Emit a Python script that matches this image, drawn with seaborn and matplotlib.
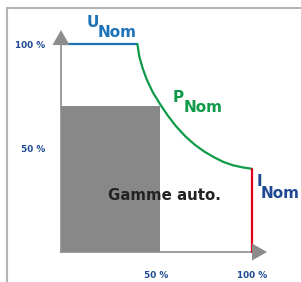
import matplotlib
matplotlib.use("Agg")
import matplotlib.pyplot as plt
from matplotlib.lines import Line2D
from matplotlib.patches import Polygon
import seaborn as sns
import pandas as pd

# ---- data (percent of nominal) ----
u_x = [0, 40]
u_y = [100, 100]
p_x = [40, 41, 42.8, 45, 48, 52, 56, 60, 65, 70, 75, 80, 85, 90, 95, 100]
p_y = [100, 94, 88.2, 82.7, 76.9, 70.9, 65.5, 60.7, 55.7, 51.6, 48.3, 45.6, 43.3, 41.7, 40.7, 40]
i_x = [100, 100]
i_y = [40, 0]
auto_w = 52   # automatic range width (%)
auto_h = 70   # automatic range height (%)
tick_vals = [10, 20, 30, 40, 50, 60, 70, 80, 90, 100]
tick_labels = ["", "", "", "", "50 %", "", "", "", "", "100 %"]

sns.set_style("white")
plt.rcParams["font.family"] = ["DejaVu Sans"]

W, H, DPI = 301, 282, 100
fig = plt.figure(figsize=(W / DPI, H / DPI), dpi=DPI)
ax = fig.add_axes([0, 0, 1, 1])
ax.patch.set_alpha(0)

# pixel mapping: origin (61,252); 100% x at 252 px; 100% y at 44 px
sx = 191 / 100
sy = 208 / 100
ax.set_xlim(-61 / sx, (W - 61) / sx)
ax.set_ylim(-(H - 252) / sy, 252 / sy)

blue = "#1d72b8"
green = "#0f9a48"
red = "#e2001a"
navy = "#1f4a93"
gray_axis = "#8c8c8c"

# automatic range box
ax.bar(0, auto_h, width=auto_w, align="edge", color="#888888", linewidth=0, zorder=1)

df_u = pd.DataFrame({"x": u_x, "y": u_y})
df_p = pd.DataFrame({"x": p_x, "y": p_y})
df_i = pd.DataFrame({"x": i_x, "y": i_y})
sns.lineplot(data=df_u, x="x", y="y", color=blue, lw=1.6, sort=False, estimator=None, ax=ax, zorder=3)
sns.lineplot(data=df_p, x="x", y="y", color=green, lw=1.6, sort=False, estimator=None, ax=ax, zorder=3)
sns.lineplot(data=df_i, x="x", y="y", color=red, lw=1.6, sort=False, estimator=None, ax=ax, zorder=3)

# axes
for s in ["top", "right"]:
    ax.spines[s].set_visible(False)
ax.spines["left"].set_position(("data", 0))
ax.spines["bottom"].set_position(("data", 0))
ax.spines["left"].set_bounds(0, 100)
ax.spines["bottom"].set_bounds(0, 100)
for s in ["left", "bottom"]:
    ax.spines[s].set_color(gray_axis)
    ax.spines[s].set_linewidth(1.2)
    ax.spines[s].set_zorder(2)

ax.set_xticks(tick_vals)
ax.set_xticklabels(tick_labels)
ax.set_yticks(tick_vals)
ax.set_yticklabels(tick_labels)
ax.tick_params(axis="both", direction="out", length=5, width=0.8, color=gray_axis,
               labelcolor=navy, labelsize=6.4)
ax.tick_params(axis="x", pad=9)
ax.tick_params(axis="y", pad=6.5)
for lab in ax.get_xticklabels() + ax.get_yticklabels():
    lab.set_fontweight("bold")
ax.set_xlabel("")
ax.set_ylabel("")

# axis arrows
aw = 8.5 / sx
ah = 15 / sy
ax.add_patch(Polygon([[-aw, 99.5], [aw, 99.5], [0, 99.5 + ah]], closed=True,
                     color=gray_axis, zorder=4, lw=0))
aw2 = 8.5 / sy
al2 = 15 / sx
ax.add_patch(Polygon([[100, -aw2], [100, aw2], [100 + al2, 0]], closed=True,
                     color=gray_axis, zorder=4, lw=0))

# labels
fs = 11
ax.text(13.6, 108.2, "U", color=blue, fontsize=fs, fontweight="bold", ha="left", va="baseline")
ax.text(19.0, 103.4, "Nom", color=blue, fontsize=fs, fontweight="bold", ha="left", va="baseline")
ax.text(58.5, 72.3, "P", color=green, fontsize=fs, fontweight="bold", ha="left", va="baseline")
ax.text(64.0, 67.5, "Nom", color=green, fontsize=fs, fontweight="bold", ha="left", va="baseline")
ax.text(102.6, 31.6, "I", color=navy, fontsize=fs, fontweight="bold", ha="left", va="baseline")
ax.text(104.6, 25.8, "Nom", color=navy, fontsize=fs, fontweight="bold", ha="left", va="baseline")
ax.text(53.9, 25.0, "Gamme auto.", color="#222222", fontsize=10.8, fontweight="bold",
        ha="center", va="baseline", zorder=5)

# outer frame (top and left)
frame_c = "#b4b4b4"
fig.add_artist(Line2D([7 / W, 1], [1 - 8 / H, 1 - 8 / H], color=frame_c, lw=1.5))
fig.add_artist(Line2D([7 / W, 7 / W], [0, 1 - 8 / H], color=frame_c, lw=1.5))

fig.savefig("out.png", dpi=DPI)
